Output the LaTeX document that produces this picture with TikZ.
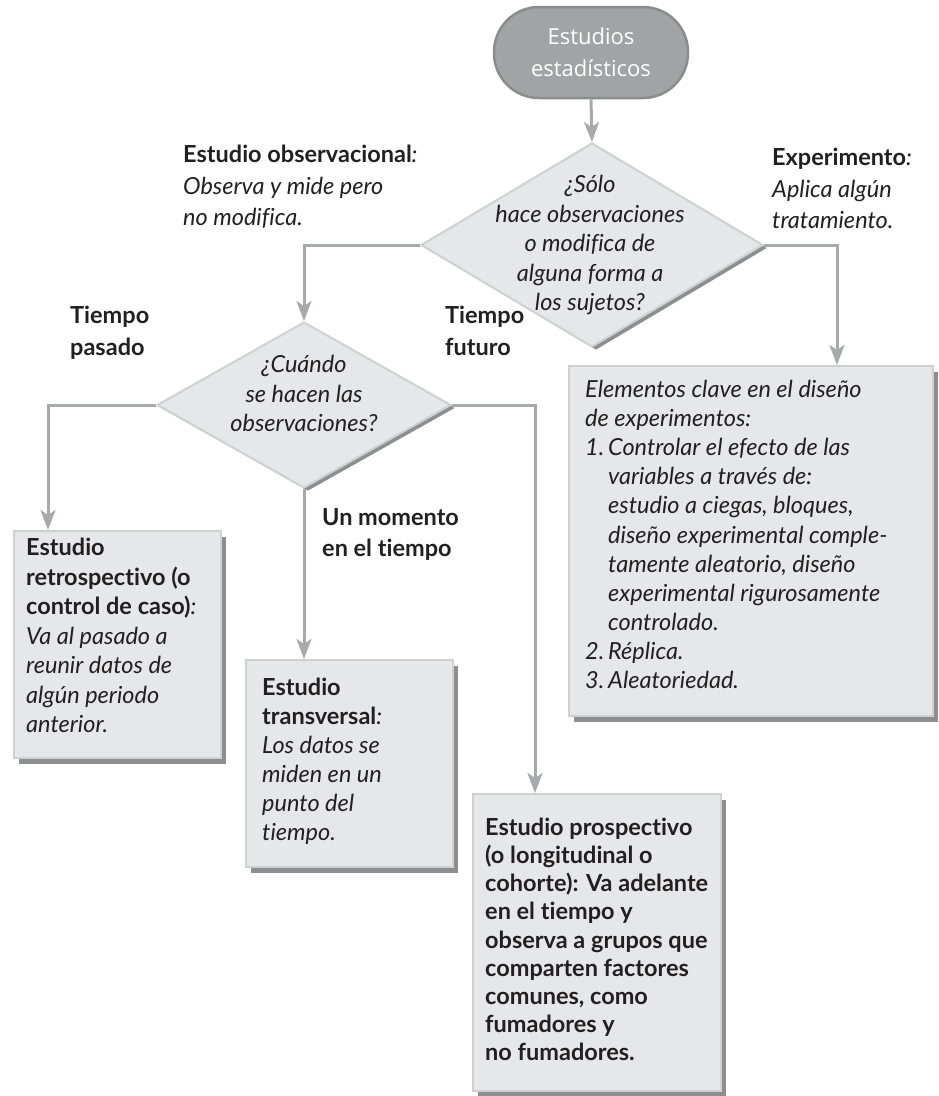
\documentclass[tikz,border=0pt]{standalone}
\usepackage{fontspec}
\setmainfont{Lato}[Ligatures=NoCommon]
\newfontfamily\termfont{Open Sans}
\usetikzlibrary{shapes.geometric,shadows,arrows.meta}
\definecolor{ink}{HTML}{231F20}
\definecolor{boxfill}{HTML}{E6E7E8}
\definecolor{boxedge}{HTML}{CFD0D2}
\definecolor{shade}{HTML}{8D8E90}
\definecolor{linegray}{HTML}{A7A9AC}
\definecolor{termfill}{HTML}{A2A3A5}
\definecolor{termedge}{HTML}{8B8C8E}
\newcommand\hdr[1]{{\upshape\bfseries #1}}
\tikzset{
  txt/.style={inner sep=0pt, align=left, text=ink, font=\fontsize{23.5}{29.5}\selectfont\itshape},
  lbl/.style={txt, font=\fontsize{23.5}{31.5}\selectfont\itshape},
  box/.style={rectangle, fill=boxfill, draw=boxedge, line width=1.5pt, inner sep=0pt, anchor=north west,
    drop shadow={shadow xshift=5pt, shadow yshift=-6pt, fill=shade, opacity=1}},
  dia/.style={diamond, fill=boxfill, draw=boxedge, line width=2pt, inner sep=0pt,
    drop shadow={shadow xshift=4pt, shadow yshift=-3pt, fill=shade, opacity=1}},
  term/.style={rectangle, rounded corners=45pt, fill=termfill, draw=termedge, line width=2.5pt,
    minimum width=194pt, minimum height=91pt, text=white, align=center,
    font=\termfont\fontsize{22}{32}\selectfont},
  arr/.style={draw=linegray, line width=3pt, -{Stealth[length=20pt,width=15pt,inset=5pt]}},
}
\begin{document}
\begin{tikzpicture}[x=1pt,y=-1pt]
\useasboundingbox (0,0) rectangle (938,1096);

% start
\node[term] (start) at (591,52.5) {Estudios\\estadísticos};

% diamonds
\node[dia, minimum width=342pt, minimum height=204pt] (d1) at (592,245) {};
\node[dia, minimum width=294pt, minimum height=166pt] (d2) at (304,405) {};

% boxes
\node[box, minimum width=207pt, minimum height=227pt] (retro) at (13,530) {};
\node[box, minimum width=207pt, minimum height=207pt] (trans) at (245,659) {};
\node[box, minimum width=248pt, minimum height=297pt] (prosp) at (472,793) {};
\node[box, minimum width=364pt, minimum height=350pt] (exper) at (568,365) {};

% connectors
\draw[arr] (start.south) -- (d1.north);
\draw[arr] (d1.west) -| (d2.north);
\draw[arr] (d1.east) -| ([xshift=269pt]exper.north west);
\draw[arr] (d2.west) -| ([xshift=35pt]retro.north west);
\draw[arr] (d2.south) -- (d2.south |- trans.north);
\draw[arr] (d2.east) -| ([xshift=63pt]prosp.north west);

% diamond texts
\node[txt, align=center, anchor=north] (d1t) at (590,175)
  {¿Sólo\\ hace observaciones\\ o modifica de\\ alguna forma a\\ los sujetos?};
\node[txt, align=center, anchor=north] (d2t) at (304,355)
  {¿Cuándo\\ se hacen las\\ observaciones?};

% labels
\node[lbl, anchor=north west] (obs) at (183,145)
  {\hdr{Estudio observacional}:\\ Observa y mide pero\\ no modifica.};
\node[lbl, anchor=north west] (exl) at (772,148)
  {\hdr{Experimento}:\\ Aplica algún\\ tratamiento.};
\node[lbl, anchor=north west] (pas) at (70,306) {\hdr{Tiempo}\\ \hdr{pasado}};
\node[lbl, anchor=north west] (fut) at (445,306) {\hdr{Tiempo}\\ \hdr{futuro}};
\node[lbl, anchor=north west] (mom) at (322,508) {\hdr{Un momento}\\ \hdr{en el tiempo}};

% box texts
\node[txt, anchor=north west] (retrot) at (26,538)
  {\hdr{Estudio}\\ \hdr{retrospectivo (o}\\ \hdr{control de caso)}:\\ Va al pasado a\\ reunir datos de\\ algún periodo\\ anterior.};
\node[txt, font=\fontsize{23.5}{29}\selectfont\itshape, anchor=north west] (transt) at (262,678)
  {\hdr{Estudio}\\ \hdr{transversal}:\\ Los datos se\\ miden en un\\ punto del\\ tiempo.};
\node[txt, font=\fontsize{23.5}{28.1}\selectfont\itshape, anchor=north west] (prospt) at (485,818)
  {\hdr{Estudio prospectivo}\\ \hdr{(o longitudinal o}\\ \hdr{cohorte): Va adelante}\\ \hdr{en el tiempo y}\\ \hdr{observa a grupos que}\\ \hdr{comparten factores}\\ \hdr{comunes, como}\\ \hdr{fumadores y}\\ \hdr{no fumadores.}};
\node[txt, font=\fontsize{23.5}{29.1}\selectfont\itshape, anchor=north west] (expt) at (585,380)
  {Elementos clave en el diseño\\ de experimentos:\\
   \makebox[23pt][l]{1.}Controlar el efecto de las\\
   \hspace*{23pt}variables a través de:\\
   \hspace*{23pt}estudio a ciegas, bloques,\\
   \hspace*{23pt}diseño experimental comple-\\
   \hspace*{23pt}tamente aleatorio, diseño\\
   \hspace*{23pt}experimental rigurosamente\\
   \hspace*{23pt}controlado.\\
   \makebox[23pt][l]{2.}Réplica.\\
   \makebox[23pt][l]{3.}Aleatoriedad.};
\end{tikzpicture}
\end{document}
